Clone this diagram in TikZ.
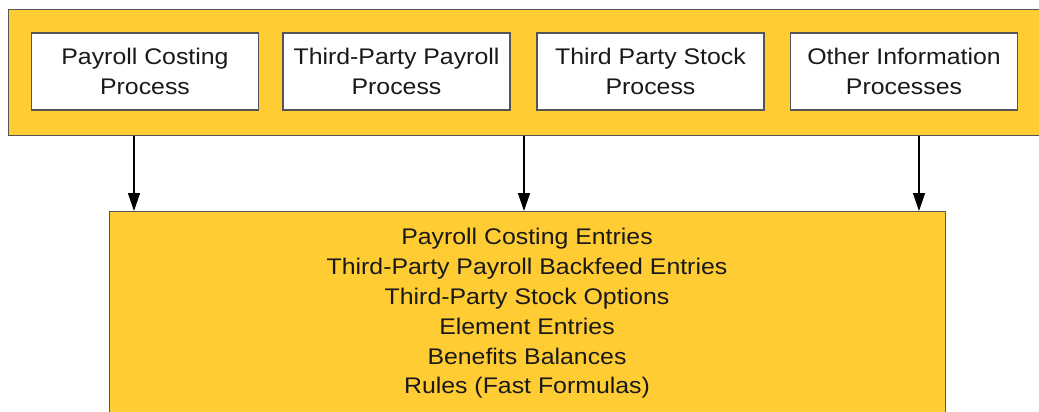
\documentclass[tikz,border=0pt]{standalone}
\usepackage{fontspec}
\setmainfont{Liberation Sans}[FakeStretch=1.1]
\usetikzlibrary{arrows.meta}
\definecolor{gold}{RGB}{255,204,51}
\definecolor{edge}{RGB}{85,85,85}
\definecolor{ink}{RGB}{25,25,25}
\begin{document}
\begin{tikzpicture}[x=1pt,y=-1pt,
  band/.style={draw=edge, fill=gold, line width=1.3pt, inner sep=0pt},
  proc/.style={draw=edge, fill=white, line width=1.3pt, minimum width=227pt,
    minimum height=77pt, align=center, inner sep=0pt, text=ink,
    font=\fontsize{22.6}{30}\selectfont},
  listtext/.style={align=center, inner sep=0pt, text=ink,
    font=\fontsize{22.6}{29.8}\selectfont},
  flow/.style={-{Triangle[length=18pt,width=12pt]}, line width=1.4pt, draw=black}]
\useasboundingbox (0,0) rectangle (1039,412);
\clip (0,0) rectangle (1039,412);
\node[band, anchor=north west, minimum width=1050pt, minimum height=126pt] (top) at (8,9) {};
\node[proc] (p1) at (145,71.5) {Payroll Costing\\Process};
\node[proc] (p2) at (396.5,71.5) {Third-Party Payroll\\Process};
\node[proc] (p3) at (650.5,71.5) {Third Party Stock\\Process};
\node[proc] (p4) at (904,71.5) {Other Information\\Processes};
\node[band, anchor=north west, minimum width=836pt, minimum height=220pt] (entries) at (109,211) {};
\node[listtext] (elist) at (527,313.5) {Payroll Costing Entries\\Third-Party Payroll Backfeed Entries\\Third-Party Stock Options\\Element Entries\\Benefits Balances\\Rules (Fast Formulas)};
\coordinate (c1) at (134,0);
\coordinate (c2) at (524,0);
\coordinate (c3) at (919,0);
\draw[flow] (top.south -| c1) -- (entries.north -| c1);
\draw[flow] (top.south -| c2) -- (entries.north -| c2);
\draw[flow] (top.south -| c3) -- (entries.north -| c3);
\end{tikzpicture}
\end{document}
